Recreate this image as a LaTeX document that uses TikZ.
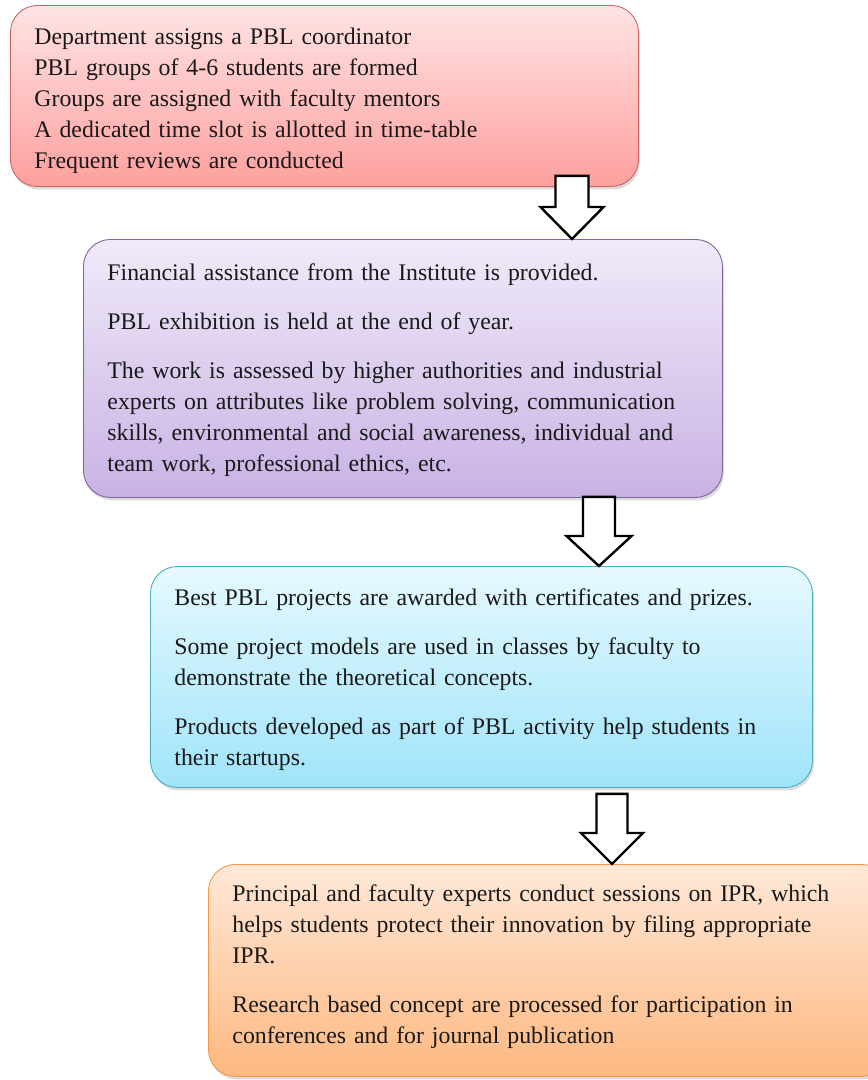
\documentclass[tikz,border=0pt]{standalone}
\usepackage{fontspec}
\setmainfont{Liberation Serif}
\usetikzlibrary{shadows,calc}

\definecolor{redtop}{RGB}{255,228,228}
\definecolor{redbot}{RGB}{253,160,158}
\definecolor{redline}{RGB}{205,100,98}
\definecolor{purtop}{RGB}{241,234,249}
\definecolor{purbot}{RGB}{200,178,228}
\definecolor{purline}{RGB}{128,100,162}
\definecolor{cyatop}{RGB}{230,249,255}
\definecolor{cyabot}{RGB}{160,228,249}
\definecolor{cyaline}{RGB}{75,172,198}
\definecolor{oratop}{RGB}{255,232,216}
\definecolor{orabot}{RGB}{253,184,128}
\definecolor{oraline}{RGB}{247,150,70}

\tikzset{
  stagebox/.style={draw, line width=0.9pt, rounded corners=27pt,
    anchor=north west, inner xsep=24pt, inner ysep=0pt, align=left,
    font=\fontsize{23.8}{31}\selectfont, text=black!90,
    drop shadow={shadow xshift=1.5pt, shadow yshift=-3pt, opacity=0.28}},
  redbox/.style={stagebox, draw=redline, top color=redtop, bottom color=redbot},
  purbox/.style={stagebox, draw=purline, top color=purtop, bottom color=purbot},
  cyabox/.style={stagebox, draw=cyaline, top color=cyatop, bottom color=cyabot},
  orabox/.style={stagebox, draw=oraline, top color=oratop, bottom color=orabot},
  blockarrow/.style={draw=black, fill=white, line width=2.4pt, line join=miter},
}

% block arrow: #1 top of shaft, #2 tip, half shaft width, half head width, head length
\newcommand{\downblock}[5]{%
  \draw[blockarrow] let \p1=#1, \p2=#2 in
    (\x1-#3,\y1) -- (\x1+#3,\y1) -- (\x1+#3,\y2+#5) -- (\x1+#4,\y2+#5)
    -- (\x2,\y2) -- (\x1-#4,\y2+#5) -- (\x1-#3,\y2+#5) -- cycle;}

\begin{document}
\begin{tikzpicture}[x=1pt,y=-1pt]
\clip (0,0) rectangle (868,1080);
\fill[white] (0,0) rectangle (868,1080);

\node[redbox, minimum width=628pt, minimum height=181pt, text width=580pt] (b1) at (10,5)
{\rule{0pt}{26pt}Department assigns a PBL coordinator\\
PBL groups of 4-6 students are formed\\
Groups are assigned with faculty mentors\\
A dedicated time slot is allotted in time-table\\
Frequent reviews are conducted};

\node[purbox, minimum width=639pt, minimum height=258pt, text width=591pt] (b2) at (83,239)
{\rule{0pt}{20pt}Financial assistance from the Institute is provided.\\[18pt]
PBL exhibition is held at the end of year.\\[18pt]
The work is assessed by higher authorities and industrial\\
experts on attributes like problem solving, communication\\
skills, environmental and social awareness, individual and\\
team work, professional ethics, etc.};

\node[cyabox, minimum width=662pt, minimum height=221pt, text width=614pt] (b3) at (150,566)
{\rule{0pt}{22pt}Best PBL projects are awarded with certificates and prizes.\\[18pt]
Some project models are used in classes by faculty to\\
demonstrate the theoretical concepts.\\[18pt]
Products developed as part of PBL activity help students in\\
their startups.};

\node[orabox, minimum width=680pt, minimum height=212pt, text width=632pt] (b4) at (208,864)
{Principal and faculty experts conduct sessions on IPR, which\\
helps students protect their innovation by filing appropriate\\
IPR.\\[18pt]
Research based concept are processed for participation in\\
conferences and for journal publication\rule[-13pt]{0pt}{0pt}};

% connectors between the stages
\coordinate (a1top) at ($(b1.south west)+(562,-11)$);
\coordinate (a1tip) at (a1top |- b2.north);
\coordinate (a2top) at ($(b2.south west)+(516,-1)$);
\coordinate (a2tip) at (a2top |- b3.north);
\coordinate (a3top) at ($(b3.south west)+(462,6)$);
\coordinate (a3tip) at (a3top |- b4.north);

\downblock{(a1top)}{(a1tip)}{16.5pt}{31.5pt}{32pt}
\downblock{(a2top)}{(a2tip)}{16pt}{32.5pt}{30pt}
\downblock{(a3top)}{(a3tip)}{15.5pt}{31pt}{31pt}
\end{tikzpicture}
\end{document}
